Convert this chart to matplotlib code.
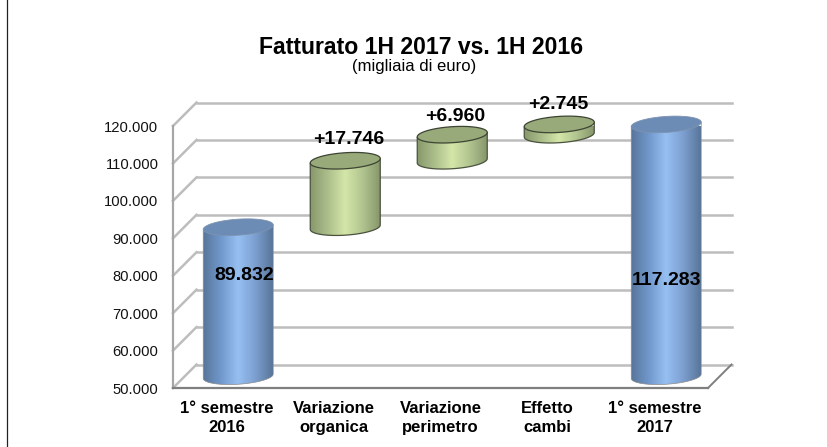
import numpy as np
import matplotlib
matplotlib.use('Agg')
import matplotlib.pyplot as plt
from matplotlib.colors import LinearSegmentedColormap
from matplotlib.lines import Line2D
from matplotlib.patches import PathPatch
from matplotlib.path import Path

plt.rcParams['font.family'] = ['Liberation Sans', 'DejaVu Sans']

# dati
categories = ['1° semestre\n2016', 'Variazione\norganica', 'Variazione\nperimetro',
              'Effetto\ncambi', '1° semestre\n2017']
bottoms = [50000, 89832, 107578, 114538, 50000]
tops = [89832, 107578, 114538, 117283, 117283]
labels = ['89.832', '+17.746', '+6.960', '+2.745', '117.283']
yticks = [50000, 60000, 70000, 80000, 90000, 100000, 110000, 120000]

# fattori pixel -> unita' dati
PX_X = 1 / 107
PX_Y = 10000 / 37.43
DEPTH = 23.5

blue = LinearSegmentedColormap.from_list('b', ['#587599', '#7097CB', '#97C0F2', '#7C9FD0', '#587599'])
green = LinearSegmentedColormap.from_list('g', ['#87976C', '#ABBE8A', '#D4E6A8', '#B2C590', '#87976C'])

fig = plt.figure(figsize=(8.28, 4.47), dpi=100)
ax = fig.add_axes([173 / 828, 1 - 388 / 447, 535 / 828, 262 / 447])
ax.set_xlim(-0.5, 4.5)
ax.set_ylim(50000, 120000)

# pareti e griglia in finta prospettiva
dx = DEPTH * PX_X
dy = DEPTH * PX_Y
for v in yticks:
    c = '#bdbdbd'
    ax.plot([-0.5 + dx, 4.5 + dx], [v + dy, v + dy], color=c, lw=1.8, zorder=1, clip_on=False)
    ax.plot([-0.5, -0.5 + dx], [v, v + dy], color=c, lw=1.8, zorder=1, clip_on=False)
ax.plot([4.5, 4.5 + dx], [50000, 50000 + dy], color='#7f7f7f', lw=1.4, zorder=1, clip_on=False)

for s in ['top', 'right']:
    ax.spines[s].set_visible(False)
ax.spines['left'].set_color('#a6a6a6')
ax.spines['left'].set_linewidth(1.6)
ax.spines['bottom'].set_color('#7f7f7f')
ax.spines['bottom'].set_linewidth(1.6)

ax.set_yticks(yticks)
ax.set_yticklabels([f'{v:,}'.replace(',', '.') for v in yticks], fontsize=10.6, color='#111111')
ax.set_xticks(range(len(categories)))
ax.set_xticklabels(categories, fontsize=12, fontweight='bold', linespacing=1.3)
ax.tick_params(axis='both', length=0)
ax.tick_params(axis='y', pad=10.5)
ax.tick_params(axis='x', pad=9.5)

# cilindri a meta' profondita'
half_w = 35 * PX_X
half_h = 8 * PX_Y
tilt = 2.2 * PX_Y
off_x = dx / 2
off_y = dy / 2
grad = np.linspace(0, 1, 256).reshape(1, -1)
th = np.linspace(0, 2 * np.pi, 120)
for i, (b, t) in enumerate(zip(bottoms, tops)):
    cx = i + off_x
    y0 = b + off_y
    y1 = t + off_y
    is_total = i in (0, 4)
    cmap = blue if is_total else green
    # ellisse leggermente inclinata, come nel 3D originale
    ex = half_w * np.cos(th)
    ey = half_h * np.sin(th) + tilt * np.cos(th)
    low = th >= np.pi
    xs = np.r_[cx - half_w, cx + ex[low], cx + half_w, cx - half_w]
    ys = np.r_[y1 - tilt, y0 + ey[low], y1 + tilt, y1 - tilt]
    patch = PathPatch(Path(np.c_[xs, ys]), transform=ax.transData, facecolor='none',
                      edgecolor='#8a8a8a' if is_total else '#4a523e',
                      lw=0.5 if is_total else 0.9, zorder=3.2, clip_on=False)
    ax.add_patch(patch)
    im = ax.imshow(grad, extent=[cx - half_w, cx + half_w, y0 - half_h - tilt, y1 + half_h + tilt],
                   aspect='auto', cmap=cmap, zorder=3, interpolation='bilinear')
    im.set_clip_path(patch)
    ax.fill(cx + ex, y1 + ey, facecolor='#6c8cb6' if is_total else '#98aa7a',
            edgecolor='#7d93b0' if is_total else '#3d4433',
            lw=0.6 if is_total else 0.9, zorder=3.4, clip_on=False)
ax.set_xlim(-0.5, 4.5)
ax.set_ylim(50000, 120000)

# etichette valori
label_pos = [(6, -48), (4, 21), (3, 18), (-1, 20), (0, -156)]
for i, txt in enumerate(labels):
    ax.annotate(txt, (i + off_x, tops[i] + off_y), xytext=label_pos[i], textcoords='offset pixels',
                ha='center', va='center', fontsize=14, fontweight='bold', color='black',
                zorder=6, annotation_clip=False)

fig.text(421 / 828, 1 - 48 / 447, 'Fatturato 1H 2017 vs. 1H 2016', ha='center', va='center',
         fontsize=16.6, fontweight='bold')
fig.text(414 / 828, 1 - 67 / 447, '(migliaia di euro)', ha='center', va='center', fontsize=12)

# filetto a sinistra
fig.add_artist(Line2D([7 / 828, 7 / 828], [0, 1], color='#222222', lw=0.9))

fig.savefig('out.png', dpi=100)
